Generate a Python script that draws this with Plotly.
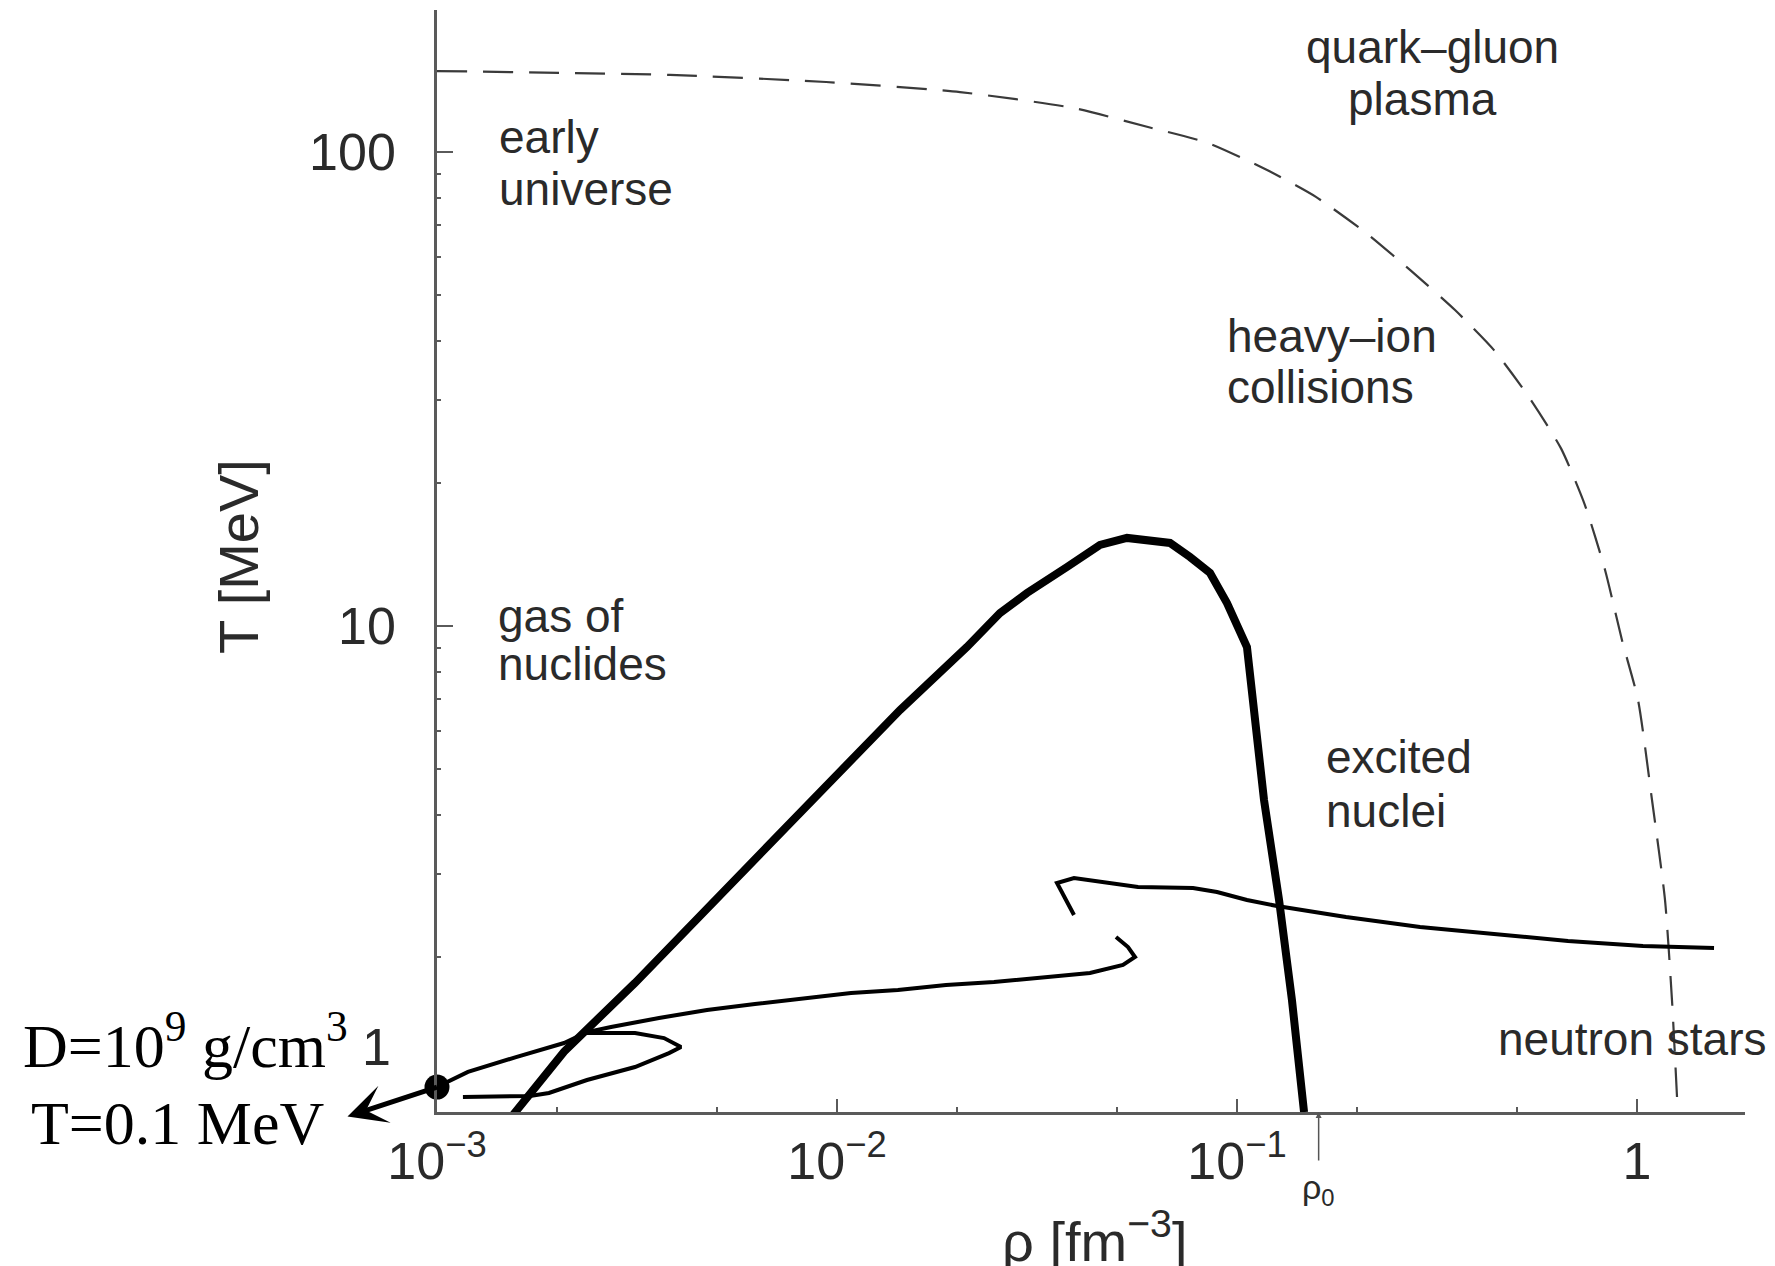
import math
import plotly.graph_objects as go

# Phase diagram of nuclear matter: temperature vs. baryon density

# QCD (quark-gluon plasma) boundary, dashed
qgp_rho = [0.001, 0.003824, 0.00939, 0.0203, 0.0391, 0.0599, 0.0846, 0.1189, 0.1575,
           0.2102, 0.2707, 0.3508, 0.4390, 0.537, 0.6457, 0.741, 0.832, 0.917, 1.006,
           1.090, 1.175, 1.223, 1.259]
qgp_T = [148.2, 145.4, 140.5, 133.8, 123.8, 112.9, 104.5, 91.6, 80.4, 67.5, 56.4, 46.4,
         38.2, 30.4, 23.7, 18.0, 13.13, 9.34, 6.98, 4.30, 2.64, 1.626, 1.015]

# liquid-gas coexistence boundary, thick
lg_rho = [0.001549, 0.002078, 0.003126, 0.00543, 0.006569, 0.01437, 0.02113, 0.02556,
          0.02985, 0.03758, 0.04544, 0.05309, 0.06061, 0.06801, 0.07631, 0.08562,
          0.09441, 0.1059, 0.1168, 0.1274, 0.1372, 0.1471]
lg_T = [0.930, 1.265, 1.766, 2.870, 3.369, 6.65, 9.03, 10.65, 11.74, 13.32, 14.83, 15.34,
        15.19, 14.97, 13.98, 12.94, 11.18, 9.03, 4.30, 2.64, 1.626, 0.943]

# supernova matter trajectory, thin
traj_rho = [0.001, 0.001195, 0.001576, 0.002078, 0.002371, 0.002723, 0.003589, 0.004732,
            0.006237, 0.008222, 0.01084, 0.0142, 0.01873, 0.02469, 0.03255, 0.04290,
            0.05188, 0.05559, 0.05340, 0.04983]
traj_T = [1.065, 1.146, 1.232, 1.319, 1.391, 1.426, 1.489, 1.549, 1.594, 1.641, 1.682,
          1.707, 1.748, 1.774, 1.809, 1.853, 1.927, 2.003, 2.102, 2.207]

loop_rho = [0.002278, 0.003126, 0.003694, 0.004074, 0.003802, 0.003126, 0.002371,
            0.001905, 0.001708, 0.001161]
loop_T = [1.385, 1.385, 1.351, 1.294, 1.256, 1.174, 1.102, 1.035, 1.020, 1.015]

upper_rho = [0.03913, 0.03548, 0.03913, 0.05656, 0.07762, 0.08913, 0.1059, 0.1259,
             0.1873, 0.2868, 0.4390, 0.6722, 1.035, 1.558]
upper_T = [2.456, 2.870, 2.940, 2.815, 2.801, 2.747, 2.642, 2.566, 2.432, 2.317, 2.240,
           2.165, 2.113, 2.093]

# starting point of the trajectory
start_rho = [0.001]
start_T = [1.065]

# saturation density
rho0 = 0.16

x_tickvals = [0.001, 0.01, 0.1, 1]
x_ticktext = ["10<sup>−3</sup>", "10<sup>−2</sup>", "10<sup>−1</sup>", "1"]
y_tickvals = [10, 100]
y_ticktext = ["10", "100"]

SANS = "Liberation Sans, Arial, Helvetica, sans-serif"
SERIF = "Liberation Serif, Times New Roman, serif"
TXT = "#2a2a2a"
AXC = "#5a5a5a"

fig = go.Figure()

fig.add_trace(go.Scatter(x=qgp_rho, y=qgp_T, mode="lines",
                         line=dict(color="#3a3a3a", width=2.2, dash="30px,16px",
                                   shape="spline", smoothing=0.6)))
fig.add_trace(go.Scatter(x=lg_rho, y=lg_T, mode="lines",
                         line=dict(color="black", width=8)))
for xs, ys in [(traj_rho, traj_T), (loop_rho, loop_T), (upper_rho, upper_T)]:
    fig.add_trace(go.Scatter(x=xs, y=ys, mode="lines",
                             line=dict(color="black", width=4)))
fig.add_trace(go.Scatter(x=start_rho, y=start_T, mode="markers", cliponaxis=False,
                         marker=dict(color="black", size=25)))

minor_x = [m * 10 ** e for e in (-3, -2, -1, 0) for m in (2, 5) if m * 10 ** e < 1.8]
minor_y = [m * 10 ** e for e in (0, 1, 2) for m in range(2, 10) if m * 10 ** e < 195]

fig.update_xaxes(type="log", range=[-3, 0.27], showgrid=False, zeroline=False,
                 showline=True, linecolor=AXC, linewidth=2.5,
                 ticks="inside", ticklen=13, tickwidth=2, tickcolor=AXC,
                 tickvals=x_tickvals, ticktext=x_ticktext,
                 tickfont=dict(family=SANS, size=52, color=TXT),
                 ticklabelstandoff=2,
                 minor=dict(tickvals=minor_x, ticks="inside", ticklen=5,
                            tickwidth=1.5, tickcolor=AXC))
fig.update_yaxes(type="log", range=[-0.0253, 2.2996], showgrid=False, zeroline=False,
                 showline=True, linecolor=AXC, linewidth=2.5,
                 ticks="inside", ticklen=16, tickwidth=2, tickcolor=AXC,
                 tickvals=y_tickvals, ticktext=y_ticktext,
                 tickfont=dict(family=SANS, size=52, color=TXT),
                 ticklabelstandoff=28,
                 minor=dict(tickvals=minor_y, ticks="inside", ticklen=4,
                            tickwidth=1.5, tickcolor=AXC))

annotations = []

def label(text, x, y, size=46, xanchor="left", yanchor="middle", family=SANS,
          color=TXT, angle=0):
    annotations.append(dict(text=text, x=x, y=y, xref="paper", yref="paper",
                            xanchor=xanchor, yanchor=yanchor, showarrow=False,
                            textangle=angle,
                            font=dict(family=family, size=size, color=color)))

# region names
label("early", 0.0459, 0.8848)
label("universe", 0.0459, 0.8376)
label("gas of", 0.0451, 0.4501)
label("nuclides", 0.0451, 0.4065)
label("heavy–ion", 0.6024, 0.7042)
label("collisions", 0.6024, 0.6579)
label("quark–gluon", 0.6628, 0.9664)
label("plasma", 0.6950, 0.9192)
label("excited", 0.6781, 0.3221)
label("nuclei", 0.6781, 0.2731)
label("neutron stars", 0.8096, 0.0662)

# axis titles
label("T [MeV]", -0.1521, 0.5036, size=56, xanchor="center", angle=-90)
label("ρ [fm<sup>−3</sup>]", 0.503, -0.148, size=56, xanchor="center",
      yanchor="bottom")
label("1", -0.0336, 0.0590, size=52, xanchor="right")

# initial condition of the trajectory
label("D=10<sup>9</sup> g/cm<sup>3</sup>", -0.3180, 0.0272, size=62, family=SERIF,
      color="black", yanchor="bottom")
label("T=0.1 MeV", -0.3119, -0.0426, size=62, family=SERIF, color="black",
      yanchor="bottom")

# arrow from the starting point towards its label (log axes take log10 positions)
annotations.append(dict(x=math.log10(start_rho[0]), y=math.log10(start_T[0]),
                        xref="x", yref="y", axref="pixel", ayref="pixel",
                        ax=-91, ay=30, text="",
                        showarrow=True, arrowside="start", startarrowhead=3,
                        startarrowsize=1.3, arrowwidth=5, arrowcolor="black",
                        standoff=0, startstandoff=0))

# saturation density marker
annotations.append(dict(x=math.log10(rho0), y=0, xref="x", yref="paper",
                        ax=0, ay=50, text="",
                        showarrow=True, arrowhead=2, arrowsize=0.8, arrowwidth=1.5,
                        arrowcolor="#555555"))
annotations.append(dict(text="ρ<sub>0</sub>", x=math.log10(rho0), y=-0.049,
                        xref="x", yref="paper",
                        xanchor="center", yanchor="top", showarrow=False,
                        font=dict(family=SANS, size=34, color=TXT)))

fig.update_layout(width=1775, height=1266, showlegend=False,
                  margin=dict(l=437, r=30, t=10, b=154),
                  plot_bgcolor="white", paper_bgcolor="white",
                  annotations=annotations)

fig.write_html("out.html")
